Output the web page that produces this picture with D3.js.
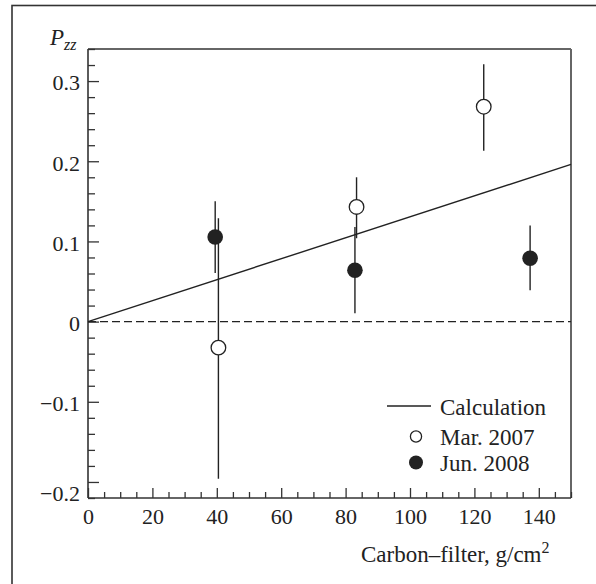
<!DOCTYPE html>
<html>
<head>
<meta charset="utf-8">
<script src="https://cdn.jsdelivr.net/npm/d3@7"></script>
<style>
  html, body { margin: 0; padding: 0; background: #fff; }
  svg { display: block; }
  text { font-family: "Liberation Serif", "DejaVu Serif", serif; fill: #222; }
</style>
</head>
<body>
<script>
// ---- data ----
const marX  = [40.5, 83.4, 122.9];
const marY  = [-0.0325, 0.143, 0.268];
const marLo = [-0.196, 0.104, 0.213];
const marHi = [0.129, 0.180, 0.321];

const junX  = [39.5, 82.9, 137.3];
const junY  = [0.1055, 0.064, 0.079];
const junLo = [0.0605, 0.0105, 0.039];
const junHi = [0.150, 0.118, 0.120];

const calcX = [0, 150];
const calcY = [0, 0.196];

const xTicks = [0, 20, 40, 60, 80, 100, 120, 140];
const yTicks = [-0.2, -0.1, 0, 0.1, 0.2, 0.3];
const yTickLabels = ["\u22120.2", "\u22120.1", "0", "0.1", "0.2", "0.3"];
const legendLabels = ["Calculation", "Mar. 2007", "Jun. 2008"];

// ---- layout ----
const W = 596, H = 584;
const L = 88, R = 571, T = 49, B = 498;
const ink = "#222";

const svg = d3.select("body").append("svg").attr("width", W).attr("height", H);

// outer frame (cropped at right/bottom)
svg.append("rect").attr("x", 12).attr("y", 5.5).attr("width", 700).attr("height", 700)
  .attr("fill", "none").attr("stroke", "#333").attr("stroke-width", 1.6);

const x = d3.scaleLinear().domain([0, 150]).range([L, R]);
const y = d3.scaleLinear().domain([-0.22, 0.34]).range([B, T]);

// plot box: top and right
svg.append("line").attr("x1", L).attr("x2", R).attr("y1", T).attr("y2", T)
  .attr("stroke", "#333").attr("stroke-width", 1.4);
svg.append("line").attr("x1", R).attr("x2", R).attr("y1", T).attr("y2", B)
  .attr("stroke", "#666").attr("stroke-width", 2);

// x axis: major + minor ticks (inward)
const xMinor = d3.range(0, 151, 5).filter(v => v % 20 !== 0);
const gxMinor = svg.append("g").attr("transform", `translate(0,${B})`)
  .call(d3.axisTop(x).tickValues(xMinor).tickSize(6).tickFormat(""));
const gx = svg.append("g").attr("transform", `translate(0,${B})`)
  .call(d3.axisTop(x).tickValues(xTicks).tickSize(10).tickFormat(d3.format("d")));
[gxMinor, gx].forEach(g => {
  g.select(".domain").remove();
  g.selectAll(".tick line").attr("stroke", "#333").attr("stroke-width", 1.3);
});
gx.selectAll(".tick text").attr("y", 26).attr("dy", 0)
  .attr("font-size", 22).attr("fill", ink)
  .style("font-family", '"Liberation Serif", serif');

// y axis: major + minor ticks (inward)
const yMinor = d3.range(-22, 35, 2).map(v => v / 100).filter(v => Math.abs(Math.round(v * 100) % 10) !== 0);
const gyMinor = svg.append("g").attr("transform", `translate(${L},0)`)
  .call(d3.axisRight(y).tickValues(yMinor).tickSize(7).tickFormat(""));
const gy = svg.append("g").attr("transform", `translate(${L},0)`)
  .call(d3.axisRight(y).tickValues(yTicks).tickSize(11)
    .tickFormat((d, i) => yTickLabels[i]));
[gyMinor, gy].forEach(g => {
  g.select(".domain").remove();
  g.selectAll(".tick line").attr("stroke", "#333").attr("stroke-width", 1.3);
});
gy.selectAll(".tick text").attr("x", -8).attr("dy", "0.4em")
  .attr("text-anchor", "end").attr("font-size", 22).attr("fill", ink)
  .style("font-family", '"Liberation Serif", serif');
// the bottom label sits lower, against the axis
gy.selectAll(".tick text").filter(d => d === -0.2).attr("dy", "0.85em");

// axis lines
svg.append("line").attr("x1", L).attr("x2", R).attr("y1", B).attr("y2", B)
  .attr("stroke", "#333").attr("stroke-width", 1.6);
svg.append("line").attr("x1", L).attr("x2", L).attr("y1", T).attr("y2", B)
  .attr("stroke", "#333").attr("stroke-width", 1.6);

// zero dashed line
svg.append("line").attr("x1", x(0)).attr("x2", x(150)).attr("y1", y(0)).attr("y2", y(0))
  .attr("stroke", ink).attr("stroke-width", 1.3).attr("stroke-dasharray", "8,4");

// calculation line
svg.append("path")
  .datum(calcX.map((v, i) => [v, calcY[i]]))
  .attr("d", d3.line().x(d => x(d[0])).y(d => y(d[1])))
  .attr("fill", "none").attr("stroke", ink).attr("stroke-width", 1.4);

// error bars
const marData = marX.map((v, i) => ({x: v, y: marY[i], lo: marLo[i], hi: marHi[i]}));
const junData = junX.map((v, i) => ({x: v, y: junY[i], lo: junLo[i], hi: junHi[i]}));

svg.append("g").selectAll("line").data(marData.concat(junData)).join("line")
  .attr("x1", d => x(d.x)).attr("x2", d => x(d.x))
  .attr("y1", d => y(d.lo)).attr("y2", d => y(d.hi))
  .attr("stroke", ink).attr("stroke-width", 1.4);

// markers
svg.append("g").selectAll("circle").data(junData).join("circle")
  .attr("cx", d => x(d.x)).attr("cy", d => y(d.y)).attr("r", 7.8)
  .attr("fill", ink);
svg.append("g").selectAll("circle").data(marData).join("circle")
  .attr("cx", d => x(d.x)).attr("cy", d => y(d.y)).attr("r", 7.3)
  .attr("fill", "#fff").attr("stroke", ink).attr("stroke-width", 1.3);

// legend
const lg = svg.append("g");
const lx = 416, ly = [406, 436.5, 462.5];
lg.append("line").attr("x1", 387).attr("x2", 431).attr("y1", ly[0]).attr("y2", ly[0])
  .attr("stroke", ink).attr("stroke-width", 1.4);
lg.append("circle").attr("cx", lx).attr("cy", ly[1]).attr("r", 5.6)
  .attr("fill", "#fff").attr("stroke", ink).attr("stroke-width", 1.3);
lg.append("circle").attr("cx", lx).attr("cy", ly[2]).attr("r", 7)
  .attr("fill", ink);
lg.selectAll("text").data(legendLabels).join("text")
  .attr("x", 440).attr("y", (d, i) => ly[i] + 8.5)
  .attr("font-size", 23).text(d => d);

// axis titles
const xt = svg.append("text").attr("x", 361).attr("y", 562).attr("font-size", 23);
xt.append("tspan").text("Carbon\u2013filter, g/cm");
xt.append("tspan").attr("font-size", 16).attr("dy", -9).text("2");

const yt = svg.append("text").attr("x", 50).attr("y", 45).attr("font-size", 23)
  .attr("font-style", "italic");
yt.append("tspan").text("P");
yt.append("tspan").attr("font-size", 16).attr("dy", 5).text("zz");
</script>
</body>
</html>
